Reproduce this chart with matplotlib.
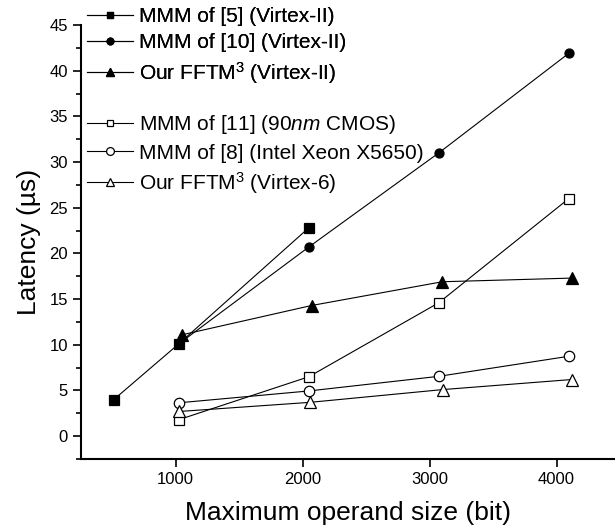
import matplotlib
matplotlib.use('Agg')
import matplotlib.pyplot as plt
from matplotlib.ticker import MultipleLocator

plt.rcParams['font.family'] = ['Liberation Sans', 'DejaVu Sans']
plt.rcParams['mathtext.fontset'] = 'custom'
plt.rcParams['mathtext.rm'] = 'Liberation Sans'
plt.rcParams['mathtext.it'] = 'Liberation Sans:italic'

# series
x_mmm5 = [512, 1024, 2048]
y_mmm5 = [4.0, 10.1, 22.8]
x_mmm10 = [1024, 2048, 3072, 4096]
y_mmm10 = [10.1, 20.7, 31.0, 41.9]
x_fftm_v2 = [1052, 2070, 3100, 4120]
y_fftm_v2 = [11.1, 14.3, 16.9, 17.3]
x_mmm11 = [1024, 2048, 3072, 4096]
y_mmm11 = [1.8, 6.5, 14.6, 26.0]
x_mmm8 = [1024, 2050, 3073, 4099]
y_mmm8 = [3.65, 4.95, 6.55, 8.75]
x_fftm_v6 = [1026, 2057, 3105, 4120]
y_fftm_v6 = [2.7, 3.7, 5.1, 6.2]

labels_top = ['MMM of [5] (Virtex-II)', 'MMM of [10] (Virtex-II)',
              'Our FFTM$^{\\mathregular{3}}$ (Virtex-II)']
labels_bottom = ['MMM of [11] (90$\\mathit{nm}$ CMOS)',
                 'MMM of [8] (Intel Xeon X5650)',
                 'Our FFTM$^{\\mathregular{3}}$ (Virtex-6)']


def main():
    fig = plt.figure(figsize=(6.15, 5.30), dpi=100)
    ax = fig.add_axes([81 / 615, 71 / 530, 1 - 81 / 615, (459 - 25) / 530])

    kw = dict(color='black', lw=0.8, ms=6.5, mec='black', mew=0.9)
    h1, = ax.plot(x_mmm5, y_mmm5, marker='s', mfc='black', **kw)
    h2, = ax.plot(x_mmm10, y_mmm10, marker='o', mfc='black', **kw)
    h3, = ax.plot(x_fftm_v2, y_fftm_v2, marker='^', mfc='black', ms=8, color='black',
                  lw=0.8, mec='black', mew=0.9)
    h4, = ax.plot(x_mmm11, y_mmm11, marker='s', mfc='white', **kw)
    h5, = ax.plot(x_mmm8, y_mmm8, marker='o', mfc='white', ms=7.5, color='black',
                  lw=0.8, mec='black', mew=0.9)
    h6, = ax.plot(x_fftm_v6, y_fftm_v6, marker='^', mfc='white', ms=8.5, color='black',
                  lw=0.8, mec='black', mew=0.9)

    ax.set_xlim(254, 4460)
    ax.set_ylim(-2.5, 45)
    ax.xaxis.set_major_locator(MultipleLocator(1000))
    ax.yaxis.set_major_locator(MultipleLocator(5))
    ax.yaxis.set_minor_locator(MultipleLocator(2.5))
    ax.spines['top'].set_visible(False)
    ax.spines['right'].set_visible(False)
    ax.spines['left'].set_linewidth(1.5)
    ax.spines['bottom'].set_linewidth(1.5)
    ax.tick_params(which='major', direction='out', length=6, width=1.2, labelsize=12)
    ax.tick_params(which='minor', direction='out', length=3.5, width=1.2)

    ax.set_xlabel('Maximum operand size (bit)', fontsize=19, labelpad=10)
    ax.set_ylabel('Latency (\u00b5s)', fontsize=19, labelpad=6)

    leg_kw = dict(loc='upper left', frameon=False, fontsize=15, markerscale=0.75,
                  handlelength=2.2, handletextpad=0.3, labelspacing=0.36,
                  borderpad=0, borderaxespad=0)
    leg1 = fig.legend([h1, h2, h3], labels_top,
                      bbox_to_anchor=(87 / 615, 1 - 7 / 530), **leg_kw)
    fig.legend([h4, h5, h6], labels_bottom,
               bbox_to_anchor=(87 / 615, 1 - 113 / 530), **leg_kw)
    fig.add_artist(leg1)

    fig.savefig('out.png', dpi=100)


if __name__ == '__main__':
    main()
